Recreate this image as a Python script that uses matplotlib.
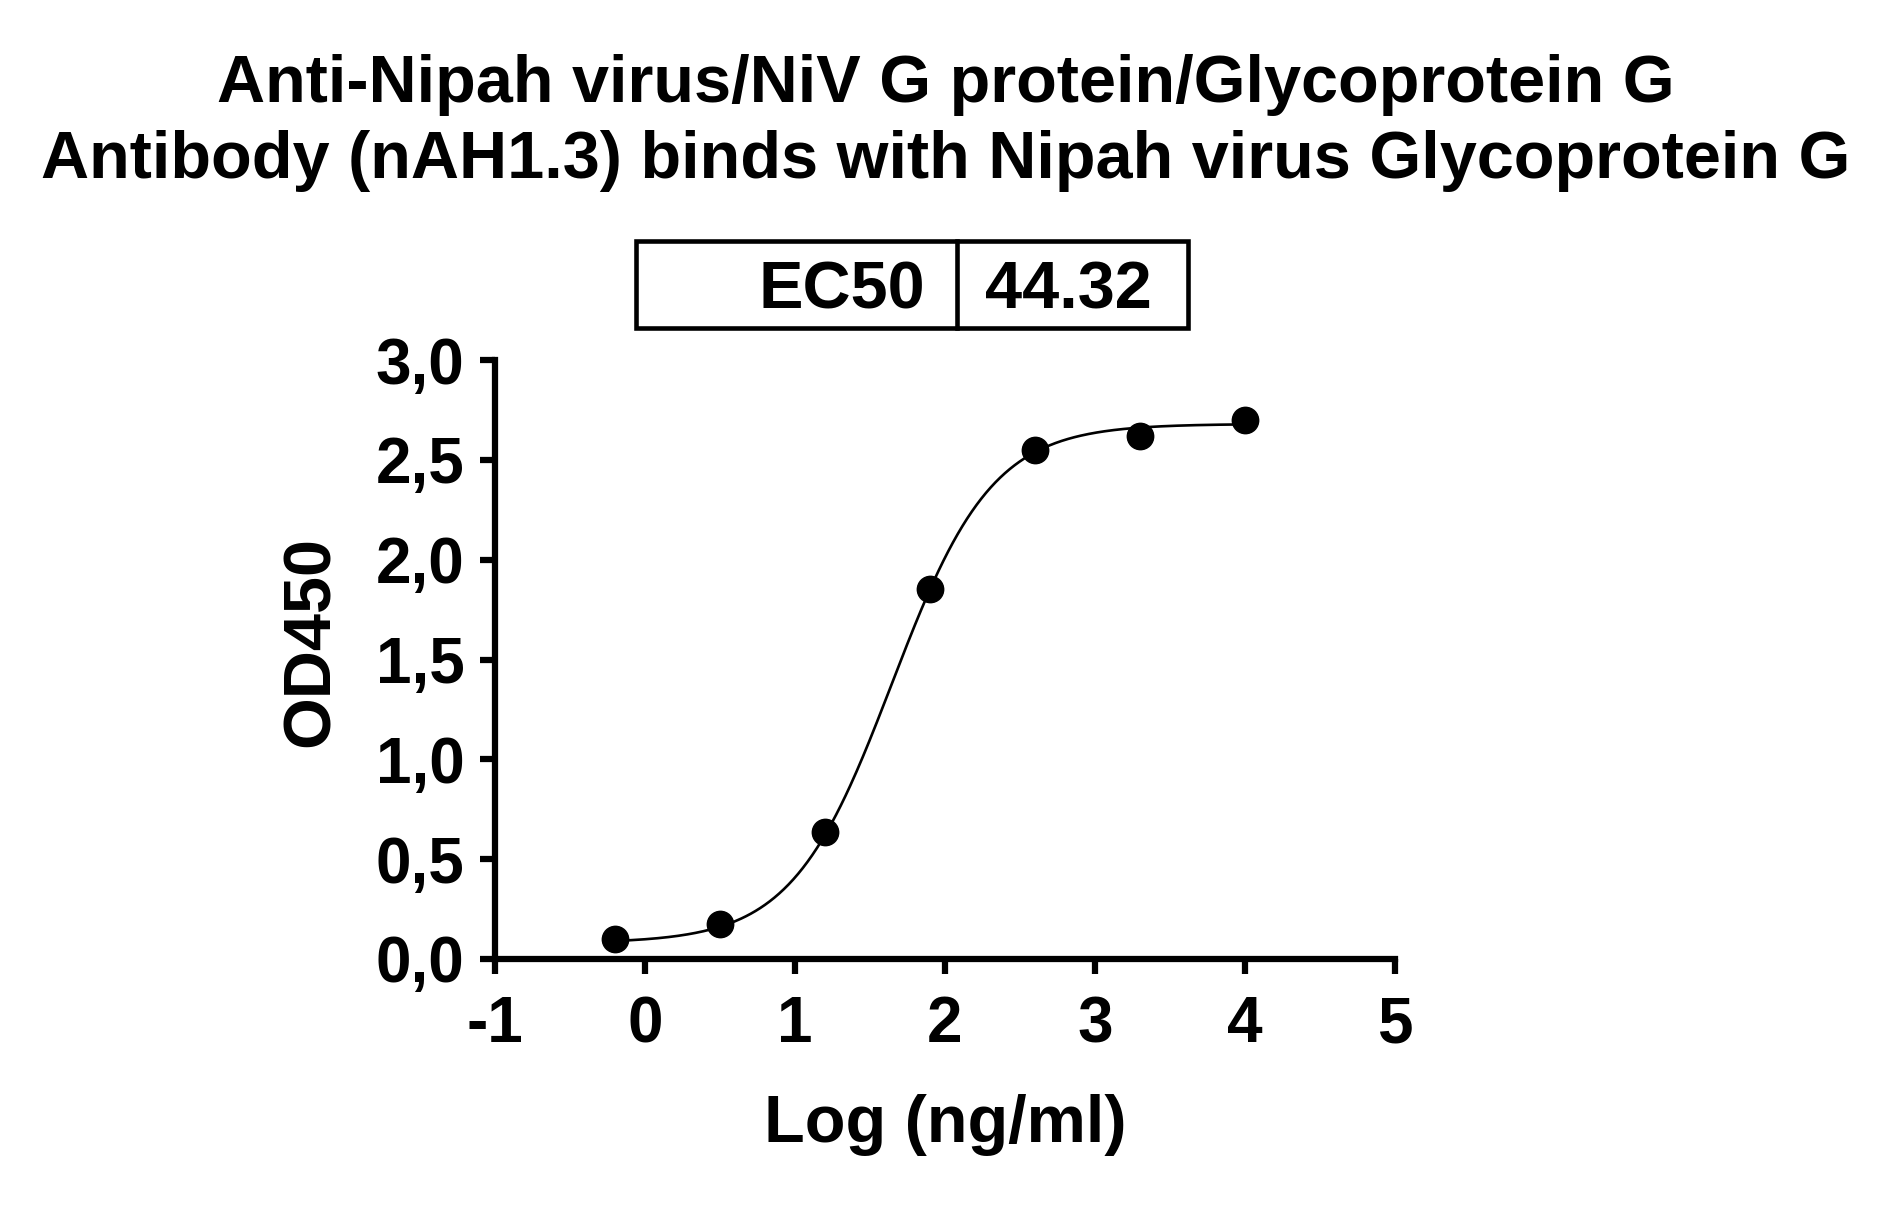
import numpy as np
import matplotlib
matplotlib.use("Agg")
import matplotlib.pyplot as plt
from matplotlib.patches import Rectangle
from matplotlib.lines import Line2D

plt.rcParams["font.family"] = ["Liberation Sans", "DejaVu Sans"]
plt.rcParams["font.weight"] = "bold"

# ── data ──────────────────────────────────────────────────────────────────────
log_conc = [-0.2, 0.5, 1.2, 1.9, 2.6, 3.3, 4.0]
od450    = [0.10, 0.175, 0.635, 1.855, 2.55, 2.62, 2.70]

# 4PL fit parameters (EC50 = 44.32 ng/ml)
EC50   = 44.32
BOTTOM = 0.08
TOP    = 2.68
HILL   = 1.3

x_ticks = [-1, 0, 1, 2, 3, 4, 5]
y_ticks = [0.0, 0.5, 1.0, 1.5, 2.0, 2.5, 3.0]
y_tick_labels = ["0,0", "0,5", "1,0", "1,5", "2,0", "2,5", "3,0"]

TITLE = ("Anti-Nipah virus/NiV G protein/Glycoprotein G\n"
         "Antibody (nAH1.3) binds with Nipah virus Glycoprotein G")

# ── figure ────────────────────────────────────────────────────────────────────
fig = plt.figure(figsize=(18.92, 12.07), dpi=100)
ax = fig.add_axes([0.2616, 0.2055, 0.7373 - 0.2616, 0.7017 - 0.2055])

xs = np.linspace(min(log_conc), max(log_conc), 400)
fit = BOTTOM + (TOP - BOTTOM) / (1 + 10 ** ((np.log10(EC50) - xs) * HILL))
ax.plot(xs, fit, color="black", lw=1.9, zorder=2)
ax.plot(log_conc, od450, "o", color="black", ms=19, zorder=3, clip_on=False)

ax.set_xlim(-1, 5)
ax.set_ylim(0, 3.0)
ax.set_xticks(x_ticks)
ax.set_xticklabels([str(t) for t in x_ticks])
ax.set_yticks(y_ticks)
ax.set_yticklabels(y_tick_labels)

for s in ["top", "right"]:
    ax.spines[s].set_visible(False)
for s in ["left", "bottom"]:
    ax.spines[s].set_linewidth(4.5)
ax.tick_params(axis="both", length=11, width=4.5, labelsize=46, direction="out")
ax.tick_params(axis="y", pad=11)
ax.tick_params(axis="x", pad=15)

ax.set_xlabel("Log (ng/ml)", fontsize=48, fontweight="bold", va="center")
ax.xaxis.set_label_coords(0.5, -0.277)
ax.set_ylabel("OD450", fontsize=48, fontweight="bold", va="center")
ax.yaxis.set_label_coords(-0.204, 0.53)

fig.text(0.5, 0.898, TITLE, ha="center", va="center", fontsize=48,
         fontweight="bold", linespacing=1.28)

# EC50 box
bx0, bx1, by0, by1, bdiv = 0.3362, 0.6279, 0.7283, 0.8003, 0.5058
fig.patches.append(Rectangle((bx0, by0), bx1 - bx0, by1 - by0, transform=fig.transFigure,
                             fill=False, lw=3.3, ec="black"))
fig.lines.append(Line2D([bdiv, bdiv], [by0, by1], transform=fig.transFigure,
                        lw=3.3, color="black"))
fig.text(bdiv - 0.017, (by0 + by1) / 2, "EC50", ha="right", va="center_baseline",
         fontsize=48, fontweight="bold")
fig.text(bdiv + 0.015, (by0 + by1) / 2, f"{EC50:.2f}", ha="left", va="center_baseline",
         fontsize=48, fontweight="bold")

fig.savefig("out.png", dpi=100, facecolor="white")
